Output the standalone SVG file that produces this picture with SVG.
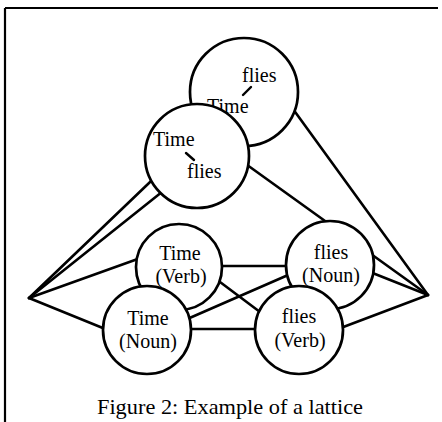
<svg xmlns="http://www.w3.org/2000/svg" width="442" height="422" viewBox="0 0 442 422">
<style>
.edge{stroke:#000;stroke-width:2.6;fill:none;stroke-linecap:round}
.node circle{fill:#fff;stroke:#000;stroke-width:2.7}
text{font-family:"Liberation Serif","Times New Roman",serif;font-size:20px;fill:#000}
.c{text-anchor:middle}
.tick{stroke:#000;stroke-width:2.4;stroke-linecap:round}
</style>
<rect width="442" height="422" fill="#fff"/>
<g id="frame">
<path d="M5 8 H438 M5 8 V422" stroke="#000" stroke-width="2.2" fill="none"/>
</g>
<g id="connectors">
<line class="edge" x1="29" y1="298" x2="244" y2="92"/>
<line class="edge" x1="29" y1="298" x2="197" y2="164"/>
<line class="edge" x1="29" y1="298" x2="160" y2="251"/>
<line class="edge" x1="29" y1="298" x2="120" y2="335"/>
<line class="edge" x1="215" y1="266" x2="295" y2="266"/>
<line class="edge" x1="212" y1="276" x2="268" y2="318"/>
<line class="edge" x1="185" y1="320" x2="295" y2="272"/>
<line class="edge" x1="185" y1="329" x2="262" y2="329"/>
<line class="edge" x1="243" y1="162" x2="428" y2="295"/>
<line class="edge" x1="285" y1="98" x2="428" y2="295"/>
<line class="edge" x1="365" y1="270" x2="428" y2="295"/>
<line class="edge" x1="338" y1="329" x2="428" y2="295"/>
</g>
<g id="node-flies-time" class="node">
<circle cx="244" cy="92" r="54"/>
<text x="242" y="82">flies</text>
<text x="207" y="113">Time</text>
<line class="tick" x1="243" y1="95" x2="251" y2="87"/>
</g>
<g id="node-time-flies" class="node">
<circle cx="197" cy="156" r="52"/>
<text x="153" y="146">Time</text>
<line class="tick" x1="186" y1="153" x2="194" y2="160"/>
<text x="187" y="178">flies</text>
</g>
<g id="node-time-verb" class="node">
<circle cx="179" cy="267" r="43"/>
<text class="c" x="180" y="260">Time</text>
<text class="c" x="181" y="283">(Verb)</text>
</g>
<g id="node-flies-noun" class="node">
<circle cx="330" cy="265" r="44"/>
<text class="c" x="331" y="259">flies</text>
<text class="c" x="331" y="282">(Noun)</text>
</g>
<g id="node-time-noun" class="node">
<circle cx="147" cy="330" r="44"/>
<text class="c" x="148" y="325">Time</text>
<text class="c" x="148" y="348">(Noun)</text>
</g>
<g id="node-flies-verb" class="node">
<circle cx="299" cy="330" r="44"/>
<text class="c" x="299" y="323">flies</text>
<text class="c" x="300" y="347">(Verb)</text>
</g>
<g id="caption">
<text x="97" y="414" textLength="266" lengthAdjust="spacingAndGlyphs" style="font-size:21px">Figure 2: Example of a lattice</text>
</g>
</svg>
